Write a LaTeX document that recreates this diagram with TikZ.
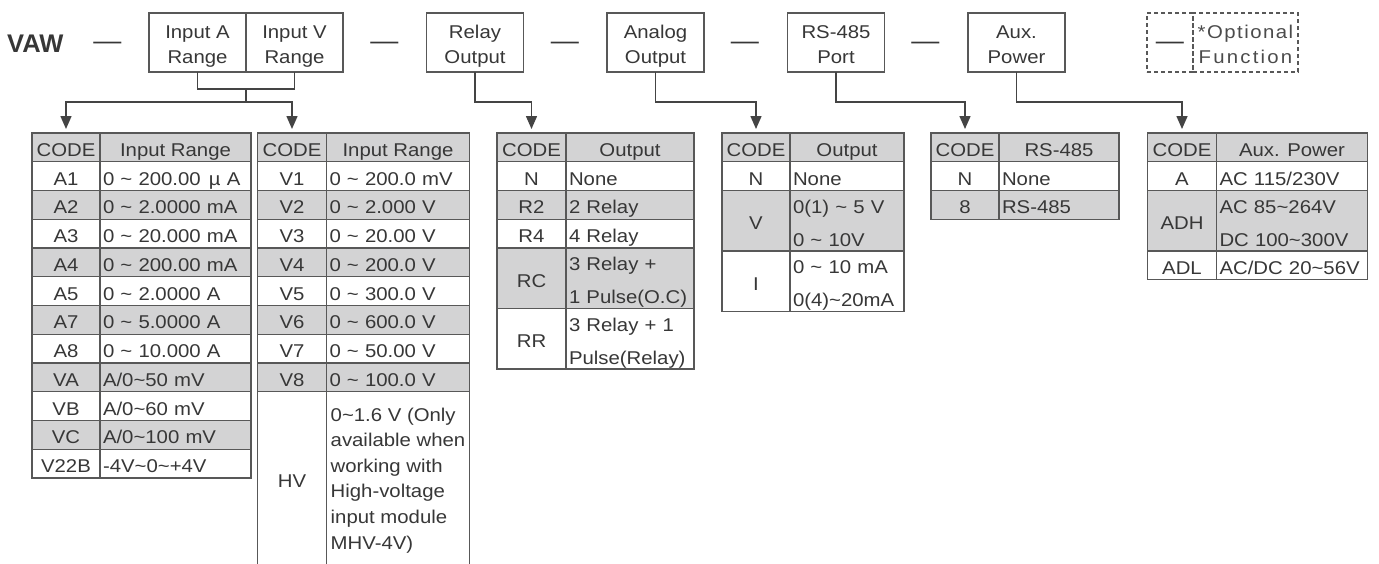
\documentclass[tikz,border=0pt]{standalone}
\usepackage{fontspec}
\setmainfont{Liberation Sans}[FakeStretch=1.1]
\newfontfamily\vawfont{Liberation Sans}
\usetikzlibrary{arrows.meta,positioning}

\definecolor{inkgray}{RGB}{55,55,55}
\definecolor{optgray}{RGB}{75,75,75}
\definecolor{linegray}{RGB}{88,88,88}
\definecolor{wiregray}{RGB}{68,68,68}
\definecolor{cellgray}{RGB}{211,211,212}

\newcommand{\cellstrut}{\vrule width 0pt height 22pt depth 4pt\relax}

\begin{document}
\begin{tikzpicture}[x=1pt, y=-1pt,
    box/.style={draw=linegray, line width=1.6pt, minimum width=97pt, minimum height=59pt, inner sep=0pt, outer sep=0pt, align=center, text=inkgray, font=\fontsize{18.5}{25}\selectfont, text height=45.6pt, text depth=4pt},
    optbox/.style={box, line width=1.1pt, dash pattern=on 4pt off 3pt},
    sepdash/.style={text=inkgray, inner sep=0pt, outer sep=0pt, font=\fontsize{25.5}{25.5}\selectfont, text height=14pt, text depth=0pt},
    wire/.style={draw=wiregray, line width=1.5pt},
    arrow/.style={wire, -{Triangle[width=11pt,length=13pt]}, shorten >=4pt},
    cell/.style={draw=linegray, line width=1.4pt, fill=white, inner sep=0pt, outer sep=0pt, minimum height=28.75pt, text=inkgray, font=\fontsize{18.5}{33}\selectfont, execute at begin node=\cellstrut, execute at end node=\cellstrut},
    code/.style={cell, minimum width=#1pt},
    txt/.style={cell, text width=#1pt, inner xsep=3pt, align=left},
    tablerow/.code={\ifodd\i\relax\tikzset{fill=white}\else\tikzset{fill=cellgray}\fi
      \ifnum\nlines=2\relax\tikzset{minimum height=60.5pt}\fi}
  ]
  \useasboundingbox (0,0) rectangle (1379,563);

  \node[anchor=base west, inner sep=0pt, text=inkgray, font=\vawfont\bfseries\fontsize{25.5}{25.5}\selectfont] (vaw) at (7,52.7) {VAW};
  \node[sepdash] (dash1) at (107.5,42.7) {—};
  \node[box, anchor=west] (inA) at (149,42.5) {Input A\\Range};
  \node[box, right=0pt of inA] (inV) {Input V\\Range};
  \node[sepdash] (dash2) at (384.5,42.7) {—};
  \node[box, right=83.5pt of inV] (relay) {Relay\\Output};
  \node[sepdash] (dash3) at (565,42.7) {—};
  \node[box, right=83.5pt of relay] (analog) {Analog\\Output};
  \node[sepdash] (dash4) at (745,42.7) {—};
  \node[box, right=83.5pt of analog] (rs) {RS-485\\Port};
  \node[sepdash] (dash5) at (925.5,42.7) {—};
  \node[box, right=83.5pt of rs] (aux) {Aux.\\Power};

  \node[optbox, minimum width=46pt, font=\fontsize{25.5}{25.5}\selectfont, text height=14pt, text depth=0pt] (optsym) at (1170,42.5) {—};
  \node[optbox, minimum width=105pt, right=0pt of optsym, text=optgray] (optnote) {{\addfontfeatures{LetterSpace=8}*Optional}\\{\addfontfeatures{LetterSpace=12}Function}};

  % input A range
  \node[code=68, fill=cellgray, anchor=north west] (acode0) at (32,133) {CODE};
  \node[code=151, fill=cellgray, right=0pt of acode0] (atxt0) {Input Range};
  \foreach \codeval/\textval/\nlines [count=\i, remember=\i as \j (initially 0)] in {
      A1/{0 \textasciitilde{} 200.00\hspace{2pt} µ A}/1, A2/{0 \textasciitilde{} 2.0000 mA}/1,
      A3/{0 \textasciitilde{} 20.000 mA}/1, A4/{0 \textasciitilde{} 200.00 mA}/1,
      A5/{0 \textasciitilde{} 2.0000 A}/1, A7/{0 \textasciitilde{} 5.0000 A}/1,
      A8/{0 \textasciitilde{} 10.000 A}/1, VA/{A/0\textasciitilde50 mV}/1,
      VB/{A/0\textasciitilde60 mV}/1, VC/{A/0\textasciitilde100 mV}/1,
      V22B/{-4V\textasciitilde0\textasciitilde+4V}/1}
    {\node[code=68, tablerow, below=0pt of acode\j] (acode\i) {\codeval};
     \node[txt=145, tablerow, right=0pt of acode\i] (atxt\i) {\textval};}

  % input V range
  \node[code=69, fill=cellgray, anchor=north west] (vcode0) at (257.5,133) {CODE};
  \node[code=143, fill=cellgray, right=0pt of vcode0] (vtxt0) {Input Range};
  \foreach \codeval/\textval/\nlines [count=\i, remember=\i as \j (initially 0)] in {
      V1/{0 \textasciitilde{} 200.0 mV}/1, V2/{0 \textasciitilde{} 2.000 V}/1,
      V3/{0 \textasciitilde{} 20.00 V}/1, V4/{0 \textasciitilde{} 200.0 V}/1,
      V5/{0 \textasciitilde{} 300.0 V}/1, V6/{0 \textasciitilde{} 600.0 V}/1,
      V7/{0 \textasciitilde{} 50.00 V}/1, V8/{0 \textasciitilde{} 100.0 V}/1}
    {\node[code=69, tablerow, below=0pt of vcode\j] (vcode\i) {\codeval};
     \node[txt=137, tablerow, right=0pt of vcode\i] (vtxt\i) {\textval};}
  \node[code=69, minimum height=174pt, below=0pt of vcode8] (vcode9) {HV};
  \node[cell, minimum width=143pt, minimum height=174pt, align=left, font=\fontsize{18.5}{25.6}\selectfont, execute at begin node={}, execute at end node={}, text height=144.5pt, text depth=4pt, right=0pt of vcode9] (vtxt9)
    {0\textasciitilde1.6 V (Only\\available when\\working with\\High-voltage\\input module\\MHV-4V)};

  % relay output
  \node[code=69, fill=cellgray, anchor=north west] (rcode0) at (497,133) {CODE};
  \node[code=128, fill=cellgray, right=0pt of rcode0] (rtxt0) {Output};
  \foreach \codeval/\textval/\nlines [count=\i, remember=\i as \j (initially 0)] in {
      N/None/1, R2/2 Relay/1, R4/4 Relay/1,
      RC/{3 Relay +\\1 Pulse(O.C)}/2, RR/{3 Relay + 1\\Pulse(Relay)}/2}
    {\node[code=69, tablerow, below=0pt of rcode\j] (rcode\i) {\codeval};
     \node[txt=122, tablerow, right=0pt of rcode\i] (rtxt\i) {\textval};}

  % analog output
  \node[code=68, fill=cellgray, anchor=north west] (ocode0) at (722,133) {CODE};
  \node[code=114, fill=cellgray, right=0pt of ocode0] (otxt0) {Output};
  \foreach \codeval/\textval/\nlines [count=\i, remember=\i as \j (initially 0)] in {
      N/None/1, V/{0(1) \textasciitilde{} 5 V\\0 \textasciitilde{} 10V}/2,
      I/{0 \textasciitilde{} 10 mA\\0(4)\textasciitilde20mA}/2}
    {\node[code=68, tablerow, below=0pt of ocode\j] (ocode\i) {\codeval};
     \node[txt=108, tablerow, right=0pt of ocode\i] (otxt\i) {\textval};}

  % rs-485 port
  \node[code=68, fill=cellgray, anchor=north west] (scode0) at (931,133) {CODE};
  \node[code=120, fill=cellgray, right=0pt of scode0] (stxt0) {RS-485};
  \foreach \codeval/\textval/\nlines [count=\i, remember=\i as \j (initially 0)] in {
      N/None/1, 8/RS-485/1}
    {\node[code=68, tablerow, below=0pt of scode\j] (scode\i) {\codeval};
     \node[txt=114, tablerow, right=0pt of scode\i] (stxt\i) {\textval};}

  % aux. power
  \node[code=69, fill=cellgray, anchor=north west] (pcode0) at (1147.5,133) {CODE};
  \node[code=151, fill=cellgray, right=0pt of pcode0] (ptxt0) {Aux. Power};
  \foreach \codeval/\textval/\nlines [count=\i, remember=\i as \j (initially 0)] in {
      A/{AC 115/230V}/1, ADH/{AC 85\textasciitilde264V\\DC 100\textasciitilde300V}/2,
      ADL/{AC/DC 20\textasciitilde56V}/1}
    {\node[code=69, tablerow, below=0pt of pcode\j] (pcode\i) {\codeval};
     \node[txt=145, tablerow, right=0pt of pcode\i] (ptxt\i) {\textval};}

  \draw[wire] (inA.south) -- ++(0,17) coordinate (brA) -| (inV.south);
  \draw[wire] (inA.south east |- brA) -- ++(0,13) coordinate (fork);
  \draw[arrow] (fork) -| (acode0.north);
  \draw[arrow] (fork) -| (vcode0.north);
  \draw[arrow] (relay.south) -- ++(0,30) -| (rcode0.north);
  \draw[arrow] (analog.south) -- ++(0,30) -| (ocode0.north);
  \draw[arrow] (rs.south) -- ++(0,30) -| (scode0.north);
  \draw[arrow] (aux.south) -- ++(0,30) -| (pcode0.north);

\end{tikzpicture}
\end{document}
